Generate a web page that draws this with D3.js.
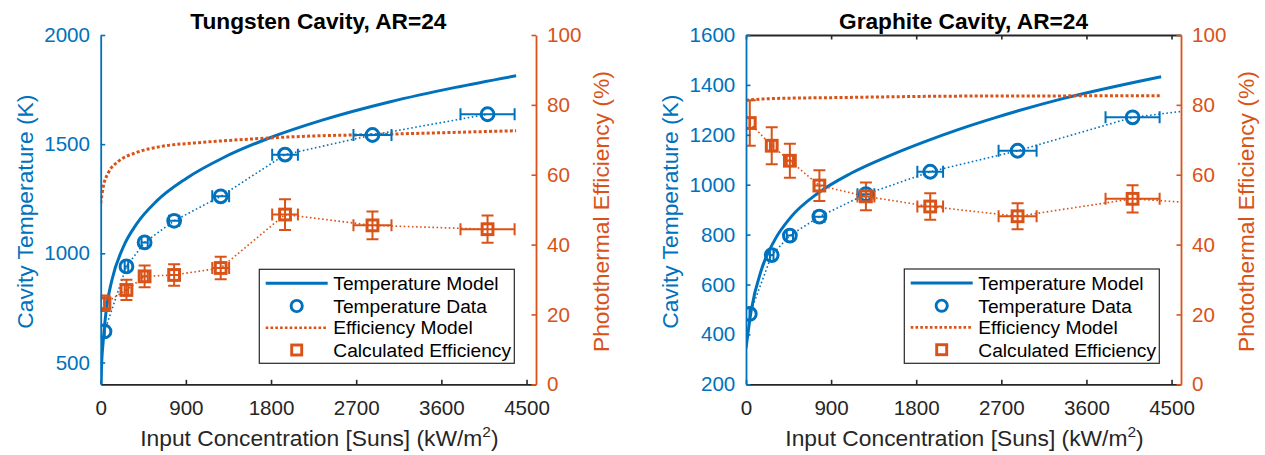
<!DOCTYPE html>
<html>
<head>
<meta charset="utf-8">
<script src="https://cdn.jsdelivr.net/npm/d3@7"></script>
<style>
  body { margin: 0; background: #fff; }
  svg { display: block; font-family: "Liberation Sans", Arial, Helvetica, sans-serif; }
</style>
</head>
<body>
<svg id="fig" width="1265" height="455"></svg>
<script>
// ---- shared axis values ----
const xTickValues = [0, 900, 1800, 2700, 3600, 4500];
const effTickValues = [0, 20, 40, 60, 80, 100];
const xLabel = "Input Concentration [Suns] (kW/m";
const tempLabel = "Cavity Temperature (K)";
const effLabel = "Photothermal Efficiency (%)";
const legendLabels = ["Temperature Model", "Temperature Data", "Efficiency Model", "Calculated Efficiency"];

// ---- tungsten cavity ----
const tungstenTitle = "Tungsten Cavity, AR=24";
const tungstenTempTicks = [500, 1000, 1500, 2000];
const tungstenConc = [40, 272, 464, 776, 1268, 1948, 2872, 4088];
const tungstenConcErr = [3, 19, 33, 54, 89, 136, 201, 286];
const tungstenTemp = [642, 940, 1050, 1149, 1261, 1452, 1542, 1637];
const tungstenEff = [23.2, 27.0, 30.9, 31.3, 33.3, 48.6, 45.5, 44.4];
const tungstenEffErr = [2.2, 2.9, 3.1, 3.1, 3.2, 4.4, 4.0, 3.9];
const tungstenModelConc = [0, 8, 25, 60, 120, 240, 380, 590, 900, 1300, 1768, 2350, 3050, 3750, 4390];
const tungstenModelTemp = [300, 470, 590, 745, 880, 1030, 1135, 1239, 1342, 1439, 1526, 1611, 1693, 1760, 1813];
const tungstenEffModelConc = [0, 28, 80, 186, 362, 643, 995, 1346, 1768, 2155, 2876, 4390];
const tungstenEffModel = [51.8, 56.7, 60.5, 63.8, 66.2, 68.1, 69.1, 69.8, 70.5, 71.0, 71.5, 72.6];

// ---- graphite cavity ----
const graphiteTitle = "Graphite Cavity, AR=24";
const graphiteTempTicks = [200, 400, 600, 800, 1000, 1200, 1400, 1600];
const graphiteConc = [40, 272, 464, 776, 1268, 1948, 2872, 4088, 5200];
const graphiteConcErr = [3, 19, 33, 54, 89, 136, 201, 286, 364];
const graphiteTemp = [482, 718, 796, 872, 962, 1052, 1136, 1270, 1321];
const graphiteEff = [74.8, 68.3, 64.0, 56.9, 53.8, 50.9, 48.1, 53.1, 51.1];
const graphiteEffErr = [6.5, 5.3, 4.9, 4.4, 4.0, 3.8, 3.7, 3.9, 3.8];
const graphiteModelConc = [0, 56, 162, 303, 479, 760, 1111, 1533, 1885, 2236, 2646, 3349, 4390];
const graphiteModelTemp = [344, 498, 658, 778, 872, 966, 1046, 1119, 1172, 1220, 1270, 1345, 1433];
const graphiteEffModelConc = [0, 268, 1000, 2236, 4390];
const graphiteEffModel = [81.3, 81.8, 82.1, 82.5, 82.6];

// ---- styling ----
const BLUE = "#0072BD";
const ORANGE = "#D95319";
const AXIS_DARK = "#262626";
const FONT = '"Liberation Sans", Arial, Helvetica, sans-serif';
const TICK_FONT = 20.6, LABEL_FONT = 22.8, TITLE_FONT = 22.7, LEGEND_FONT = 19.2;

const svg = d3.select("#fig");

const panels = [
  {
    id: "w", left: 100.7, top: 35, width: 435.3, height: 349.3, box: false,
    title: tungstenTitle, tempDomain: [400, 2000], tempTicks: tungstenTempTicks,
    conc: tungstenConc, concErr: tungstenConcErr, temp: tungstenTemp,
    eff: tungstenEff, effErr: tungstenEffErr,
    modelConc: tungstenModelConc, modelTemp: tungstenModelTemp,
    effModelConc: tungstenEffModelConc, effModel: tungstenEffModel,
    legend: { x: 158.6, y: 234.3, w: 255, h: 94 }
  },
  {
    id: "g", left: 746, top: 35, width: 435, height: 349.3, box: true,
    title: graphiteTitle, tempDomain: [200, 1600], tempTicks: graphiteTempTicks,
    conc: graphiteConc, concErr: graphiteConcErr, temp: graphiteTemp,
    eff: graphiteEff, effErr: graphiteEffErr,
    modelConc: graphiteModelConc, modelTemp: graphiteModelTemp,
    effModelConc: graphiteEffModelConc, effModel: graphiteEffModel,
    legend: { x: 158.3, y: 234, w: 255, h: 94.3 }
  }
];

const intFmt = d3.format("d");

function styleAxis(sel, color, fontColor) {
  sel.attr("font-family", FONT).attr("font-size", TICK_FONT);
  sel.select(".domain").attr("stroke", color).attr("stroke-width", 1.8);
  sel.selectAll(".tick line").attr("stroke", color).attr("stroke-width", 1.6);
  sel.selectAll(".tick text").attr("fill", fontColor);
}

function drawPanel(p) {
  const W = p.width, H = p.height;
  const g = svg.append("g").attr("transform", `translate(${p.left},${p.top})`);

  const x = d3.scaleLinear().domain([0, 4600]).range([0, W]);
  const yT = d3.scaleLinear().domain(p.tempDomain).range([H, 0]);
  const yE = d3.scaleLinear().domain([0, 100]).range([H, 0]);

  g.append("clipPath").attr("id", "clip-" + p.id)
    .append("rect").attr("x", 0).attr("y", 0).attr("width", W).attr("height", H);

  // bottom axis
  const xAxis = g.append("g").attr("transform", `translate(0,${H})`)
    .call(d3.axisBottom(x).tickValues(xTickValues).tickFormat(intFmt)
      .tickSizeInner(-4.5).tickSizeOuter(0).tickPadding(16));
  styleAxis(xAxis, AXIS_DARK, AXIS_DARK);

  if (p.box) {
    const topAxis = g.append("g")
      .call(d3.axisTop(x).tickValues(xTickValues).tickSizeInner(-4.5).tickSizeOuter(0).tickFormat(() => ""));
    styleAxis(topAxis, AXIS_DARK, AXIS_DARK);
  }

  // plot contents
  const plot = g.append("g").attr("clip-path", `url(#clip-${p.id})`);

  const tempModelPts = p.modelConc.map((c, i) => [c, p.modelTemp[i]]);
  const effModelPts = p.effModelConc.map((c, i) => [c, p.effModel[i]]);
  const tempPts = p.conc.map((c, i) => ({ c, v: p.temp[i], ce: p.concErr[i] }));
  const effPts = p.conc.map((c, i) => ({ c, v: p.eff[i], ce: p.concErr[i], ve: p.effErr[i] }));

  const lineT = d3.line().x(d => x(d[0])).y(d => yT(d[1])).curve(d3.curveMonotoneX);
  const lineE = d3.line().x(d => x(d[0])).y(d => yE(d[1])).curve(d3.curveMonotoneX);

  // temperature model (solid)
  plot.append("path").datum(tempModelPts).attr("d", lineT)
    .attr("fill", "none").attr("stroke", BLUE).attr("stroke-width", 3);

  // temperature data connecting line (thin dotted)
  plot.append("path").datum(tempPts)
    .attr("d", d3.line().x(d => x(d.c)).y(d => yT(d.v)))
    .attr("fill", "none").attr("stroke", BLUE).attr("stroke-width", 1.6)
    .attr("stroke-dasharray", "1.6 2.5");

  // efficiency model (thick dotted)
  plot.append("path").datum(effModelPts).attr("d", lineE)
    .attr("fill", "none").attr("stroke", ORANGE).attr("stroke-width", 3)
    .attr("stroke-dasharray", "3 2.2");

  // efficiency data connecting line (thin dotted)
  plot.append("path").datum(effPts)
    .attr("d", d3.line().x(d => x(d.c)).y(d => yE(d.v)))
    .attr("fill", "none").attr("stroke", ORANGE).attr("stroke-width", 1.6)
    .attr("stroke-dasharray", "1.6 2.5");

  const CAP = 6;
  // temperature horizontal error bars
  const tErr = plot.append("g").attr("stroke", BLUE).attr("stroke-width", 2).attr("fill", "none");
  tempPts.forEach(d => {
    const x0 = x(d.c - d.ce), x1 = x(d.c + d.ce), yy = yT(d.v);
    tErr.append("line").attr("x1", x0).attr("x2", x1).attr("y1", yy).attr("y2", yy);
    tErr.append("line").attr("x1", x0).attr("x2", x0).attr("y1", yy - CAP).attr("y2", yy + CAP);
    tErr.append("line").attr("x1", x1).attr("x2", x1).attr("y1", yy - CAP).attr("y2", yy + CAP);
  });

  // efficiency error bars (both directions)
  const eErr = plot.append("g").attr("stroke", ORANGE).attr("stroke-width", 2).attr("fill", "none");
  effPts.forEach(d => {
    const xx = x(d.c), yy = yE(d.v);
    const x0 = x(d.c - d.ce), x1 = x(d.c + d.ce);
    const y0 = yE(d.v - d.ve), y1 = yE(d.v + d.ve);
    eErr.append("line").attr("x1", x0).attr("x2", x1).attr("y1", yy).attr("y2", yy);
    eErr.append("line").attr("x1", x0).attr("x2", x0).attr("y1", yy - CAP).attr("y2", yy + CAP);
    eErr.append("line").attr("x1", x1).attr("x2", x1).attr("y1", yy - CAP).attr("y2", yy + CAP);
    eErr.append("line").attr("x1", xx).attr("x2", xx).attr("y1", y0).attr("y2", y1);
    eErr.append("line").attr("x1", xx - CAP).attr("x2", xx + CAP).attr("y1", y0).attr("y2", y0);
    eErr.append("line").attr("x1", xx - CAP).attr("x2", xx + CAP).attr("y1", y1).attr("y2", y1);
  });

  // markers
  plot.append("g").selectAll("circle").data(tempPts).join("circle")
    .attr("cx", d => x(d.c)).attr("cy", d => yT(d.v)).attr("r", 6.4)
    .attr("fill", "none").attr("stroke", BLUE).attr("stroke-width", 3);

  plot.append("g").selectAll("rect").data(effPts).join("rect")
    .attr("x", d => x(d.c) - 5.4).attr("y", d => yE(d.v) - 5.4)
    .attr("width", 10.8).attr("height", 10.8)
    .attr("fill", "none").attr("stroke", ORANGE).attr("stroke-width", 3);

  // left (temperature) axis
  const yAxisL = g.append("g")
    .call(d3.axisLeft(yT).tickValues(p.tempTicks).tickFormat(intFmt)
      .tickSizeInner(-4.5).tickSizeOuter(0).tickPadding(10.7));
  styleAxis(yAxisL, BLUE, BLUE);

  // right (efficiency) axis
  const yAxisR = g.append("g").attr("transform", `translate(${W},0)`)
    .call(d3.axisRight(yE).tickValues(effTickValues).tickFormat(intFmt)
      .tickSizeInner(-4.5).tickSizeOuter(0).tickPadding(11));
  styleAxis(yAxisR, ORANGE, ORANGE);

  // titles and labels
  g.append("text").attr("x", W / 2).attr("y", -6).attr("text-anchor", "middle")
    .attr("font-family", FONT).attr("font-size", TITLE_FONT).attr("font-weight", "bold")
    .attr("fill", "#000").text(p.title);

  const xl = g.append("text").attr("x", W / 2 + 1).attr("y", H + 62).attr("text-anchor", "middle")
    .attr("font-family", FONT).attr("font-size", LABEL_FONT).attr("fill", AXIS_DARK);
  xl.append("tspan").text(xLabel);
  xl.append("tspan").attr("font-size", 15.5).attr("dy", -9).text("2");
  xl.append("tspan").attr("dy", 9).text(")");

  g.append("text").attr("transform", `translate(-68.2,${H / 2 + 2}) rotate(-90)`)
    .attr("text-anchor", "middle").attr("font-family", FONT).attr("font-size", LABEL_FONT)
    .attr("fill", BLUE).text(tempLabel);

  g.append("text").attr("transform", `translate(${W + 73},${H / 2 + 2}) rotate(-90)`)
    .attr("text-anchor", "middle").attr("font-family", FONT).attr("font-size", LABEL_FONT)
    .attr("fill", ORANGE).text(effLabel);

  // legend
  const L = p.legend;
  const lg = g.append("g").attr("transform", `translate(${L.x},${L.y})`);
  lg.append("rect").attr("width", L.w).attr("height", L.h)
    .attr("fill", "#fff").attr("stroke", AXIS_DARK).attr("stroke-width", 1.2);
  const rowY = [14, 36.7, 58.4, 80.7];
  const sx0 = 6.4, sx1 = 68.4, mx = 37.4, tx = 74;
  // row 1: solid model line
  lg.append("line").attr("x1", sx0).attr("x2", sx1).attr("y1", rowY[0]).attr("y2", rowY[0])
    .attr("stroke", BLUE).attr("stroke-width", 3);
  // row 2: circle marker
  lg.append("circle").attr("cx", mx).attr("cy", rowY[1]).attr("r", 5.6)
    .attr("fill", "none").attr("stroke", BLUE).attr("stroke-width", 2.9);
  // row 3: dotted model line
  lg.append("line").attr("x1", sx0).attr("x2", sx1).attr("y1", rowY[2]).attr("y2", rowY[2])
    .attr("stroke", ORANGE).attr("stroke-width", 2.6).attr("stroke-dasharray", "2.6 2.2");
  // row 4: square marker
  lg.append("rect").attr("x", mx - 5).attr("y", rowY[3] - 5).attr("width", 10).attr("height", 10)
    .attr("fill", "none").attr("stroke", ORANGE).attr("stroke-width", 2.9);
  legendLabels.forEach((t, i) => {
    lg.append("text").attr("x", tx).attr("y", rowY[i] + 6.8)
      .attr("font-family", FONT).attr("font-size", LEGEND_FONT).attr("fill", "#000").text(t);
  });
}

panels.forEach(drawPanel);
</script>
</body>
</html>
